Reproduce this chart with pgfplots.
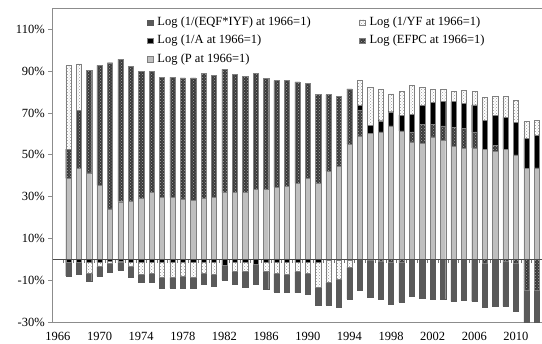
\documentclass[border=0pt]{standalone}
\usepackage{fontspec}
\setmainfont{Liberation Serif}
\usepackage{pgfplots}
\usepackage{pgfplotstable}
\pgfplotsset{compat=1.18}
\usetikzlibrary{patterns}
\definecolor{pgray}{HTML}{BFBFBF}
\definecolor{eqf}{HTML}{5A5A5A}
\definecolor{efpc}{HTML}{3A3A3A}
\definecolor{edge}{HTML}{7F7F7F}
\definecolor{framec}{HTML}{8C8C8C}

\pgfplotstableread{
year P EFPC A YF EQF
1967 38.7 14.0 -1.5 40.0 -6.3
1968 43.4 28.0 -1.5 22.1 -5.6
1969 41.4 48.9 -1.4 -5.2 -3.6
1970 35.5 57.2 -1.2 -2.2 -4.5
1971 24.2 69.8 -0.8 -1.1 -4.4
1972 27.6 68.0 -0.9 -0.3 -3.8
1973 28.0 64.2 -1.3 -1.8 -5.2
1974 29.1 60.7 -1.5 -5.4 -4.1
1975 32.1 57.7 -1.5 -5.0 -4.4
1976 29.7 57.3 -1.5 -7.0 -5.0
1977 29.7 57.3 -1.5 -7.0 -5.0
1978 29.0 57.8 -1.5 -6.5 -5.9
1979 28.2 58.6 -1.5 -7.0 -5.0
1980 29.1 59.7 -1.5 -5.2 -5.1
1981 29.6 58.5 -1.5 -5.5 -5.7
1982 32.0 58.8 -2.6 0 -7.3
1983 32.0 56.5 -1.5 -4.3 -6.1
1984 32.1 55.5 -1.5 -3.9 -8.0
1985 33.4 55.4 -2.2 0 -9.6
1986 33.4 53.2 -1.5 -3.9 -8.8
1987 34.4 51.1 -1.5 -5.1 -8.9
1988 35.0 50.5 -1.5 -5.7 -8.3
1989 36.4 48.5 -1.5 -4.3 -10.0
1990 38.9 45.3 -1.5 -5.1 -10.0
1991 36.4 42.4 -1.1 -12.0 -8.6
1992 42.1 36.7 -0.5 -10.5 -10.8
1993 44.6 33.4 -0.3 -9.0 -13.4
1994 55.1 26.4 -0.3 -3.5 -15.0
1995 59.0 12.5 2.0 12.3 -14.7
1996 60.2 -0.5 4.0 18.1 -17.4
1997 61.0 -1.0 5.3 15.2 -18.0
1998 63.8 -1.5 6.8 8.5 -19.9
1999 61.4 -1.5 7.6 11.2 -18.8
2000 56.2 4.8 8.5 13.6 -17.5
2001 55.4 9.3 9.1 8.5 -18.4
2002 58.6 6.1 10.4 6.4 -19.0
2003 57.0 6.8 11.6 6.1 -19.0
2004 53.9 9.2 12.3 5.0 -20.0
2005 53.0 9.6 12.0 6.1 -19.5
2006 53.3 7.7 12.9 6.5 -20.0
2007 52.6 -2.0 14.0 10.9 -21.0
2008 51.8 2.8 14.1 9.1 -22.4
2009 52.6 -1.0 15.3 9.9 -21.4
2010 50.0 -2.0 15.5 10.4 -22.6
2011 43.4 -14.7 14.5 8.1 -17.0
2012 43.8 -14.7 15.6 7.2 -17.0
}\data

\pgfplotsset{
  base/.style={scale only axis, width=489.3pt, height=314pt,
    xmin=1965.5, xmax=2012.5, ymin=-30, ymax=120,
    font=\fontsize{12.5}{15}\selectfont,
    /pgf/number format/assume math mode=true},
  sP/.style={fill=pgray, draw=edge, line width=0.4pt},
  sEQF/.style={fill=eqf, draw=edge!70!black, line width=0.4pt},
  sA/.style={fill=black, draw=edge, line width=0.4pt},
  sYF/.style={fill=white, draw=edge, line width=0.4pt,
    postaction={pattern=crosshatch dots, pattern color=black!40}},
  sEFPC/.style={fill=efpc, draw=edge, line width=0.4pt,
    postaction={pattern=crosshatch dots, pattern color=black!35}},
}

\begin{document}
\begin{tikzpicture}
% positive stack
\begin{axis}[base, name=ax, ybar stacked, bar width=0.5,
  axis line style={framec, line width=0.8pt},
  ytick={-30,-10,...,110}, yticklabel={\pgfmathprintnumber{\tick}\%},
  ytick pos=left, xtick pos=bottom, tick align=outside, major tick length=4.5pt,
  ytick style={framec, line width=0.8pt},
  xtick={1966,1970,...,2010}, xtick style={draw=none},
  xticklabel style={/pgf/number format/1000 sep={}, yshift=-2pt}]
\addplot[sP] table[x=year, y=P]{\data};
\addplot[sEFPC] table[x=year, y expr={max(\thisrow{EFPC},0)}]{\data};
\addplot[sA] table[x=year, y expr={max(\thisrow{A},0)}]{\data};
\addplot[sYF] table[x=year, y expr={max(\thisrow{YF},0)}]{\data};
\end{axis}
% negative stack
\begin{axis}[base, hide axis, ybar stacked, bar width=0.5]
\addplot[sA] table[x=year, y expr={min(\thisrow{A},0)}]{\data};
\addplot[sYF] table[x=year, y expr={min(\thisrow{YF},0)}]{\data};
\addplot[sEFPC] table[x=year, y expr={min(\thisrow{EFPC},0)}]{\data};
\addplot[sEQF] table[x=year, y=EQF]{\data};
\end{axis}
% zero line, category ticks, legend
\begin{axis}[base, axis x line=middle, axis y line=none,
  axis line style={-, black!70, line width=0.6pt},
  xtick={1966.5,1967.5,...,2011.5}, xticklabels={}, ytick=\empty,
  tick align=center, major tick length=3pt,
  xtick style={black!55, line width=0.5pt, yshift=-1.5pt},
  legend image code/.code={\draw[#1] (0pt,-2.7pt) rectangle (5.4pt,2.7pt);},
  legend columns=2, legend cell align=left,
  legend style={draw=none, fill=none, at={(0.1927,0.9787)}, anchor=north west,
    inner sep=0pt, row sep=3.3pt,
    nodes={inner xsep=4.5pt, inner ysep=1.5pt, text height=9pt, text depth=3pt, anchor=west},
    /tikz/every even column/.append style={column sep=44pt}}]
\addlegendimage{sEQF}
\addlegendentry{Log (1/(EQF*IYF) at 1966=1)}
\addlegendimage{sYF}
\addlegendentry{Log (1/YF at 1966=1)}
\addlegendimage{sA}
\addlegendentry{Log (1/A at 1966=1)}
\addlegendimage{sEFPC}
\addlegendentry{Log (EFPC at 1966=1)}
\addlegendimage{sP}
\addlegendentry{Log (P at 1966=1)}
\end{axis}
\pgfresetboundingbox
\path[use as bounding box] ([xshift=-52.7pt,yshift=-20.7pt]ax.south west) rectangle ([yshift=8.3pt]ax.north east);
\end{tikzpicture}
\end{document}
